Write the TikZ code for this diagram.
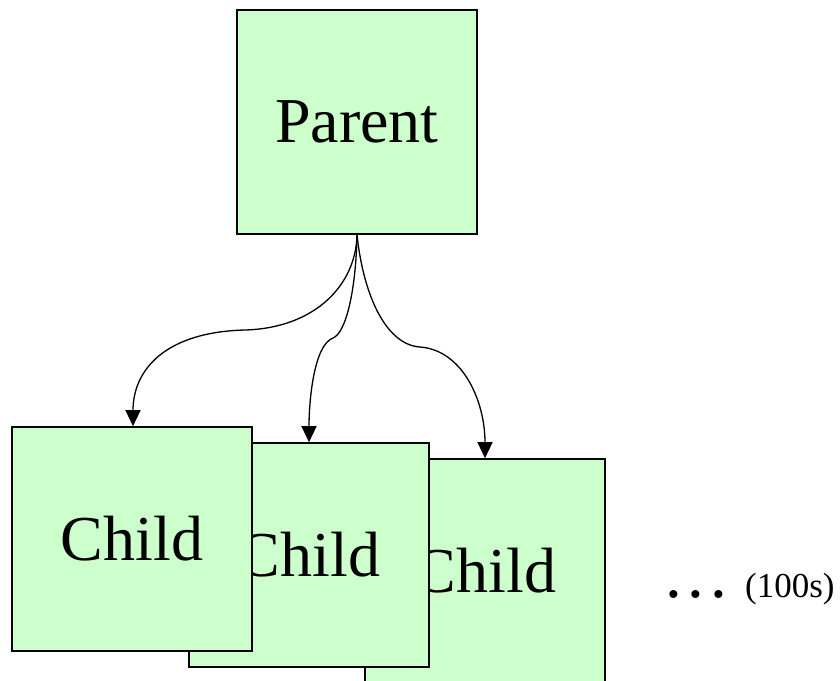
\documentclass[tikz,border=0pt]{standalone}
\usepackage{fontspec}
\setmainfont{Liberation Serif}
\usetikzlibrary{arrows.meta}
\definecolor{boxfill}{HTML}{CCFFCC}
\begin{document}
\begin{tikzpicture}[x=1pt,y=-1pt,
  box/.style={draw=black, line width=1.6pt, fill=boxfill, minimum width=240pt, minimum height=224pt, inner sep=0pt, font=\fontsize{64}{64}\selectfont},
  link/.style={line width=1.3pt, -{Triangle[length=16pt,width=15pt]}}]
\useasboundingbox (0,0) rectangle (840,680);
\begin{scope}
\clip (0,0) rectangle (840,680);
\node[box] (c3) at (485,571) {Child};
\node[box] (c2) at (309,555) {Child};
\node[box] (c1) at (132,539) {Child};
\node[box] (p) at (357,122) {Parent};
\end{scope}
\coordinate (m1) at (245,330);
\coordinate (m2) at (333,338);
\coordinate (m3) at (420,347);
\draw[link] (p.south) .. controls (356,285) and (315,328) .. (m1) .. controls (165,332) and (133,370) .. (c1.north -| 133,0);
\draw[link] (p.south) .. controls (356,290) and (346,333) .. (m2) .. controls (314,345) and (309,400) .. (c2.north -| 309,0);
\draw[link] (p.south) .. controls (364,300) and (388,345) .. (m3) .. controls (462,350) and (485,400) .. (c3.north -| 485,0);
\node[anchor=base west, inner sep=0pt, font=\fontsize{67}{67}\selectfont] (dots) at (665,597) {.\kern5.7pt.\kern5.7pt.};
\node[anchor=base west, inner sep=0pt, font=\fontsize{35}{35}\selectfont] (note) at (745,597) {(100s)};
\end{tikzpicture}
\end{document}
